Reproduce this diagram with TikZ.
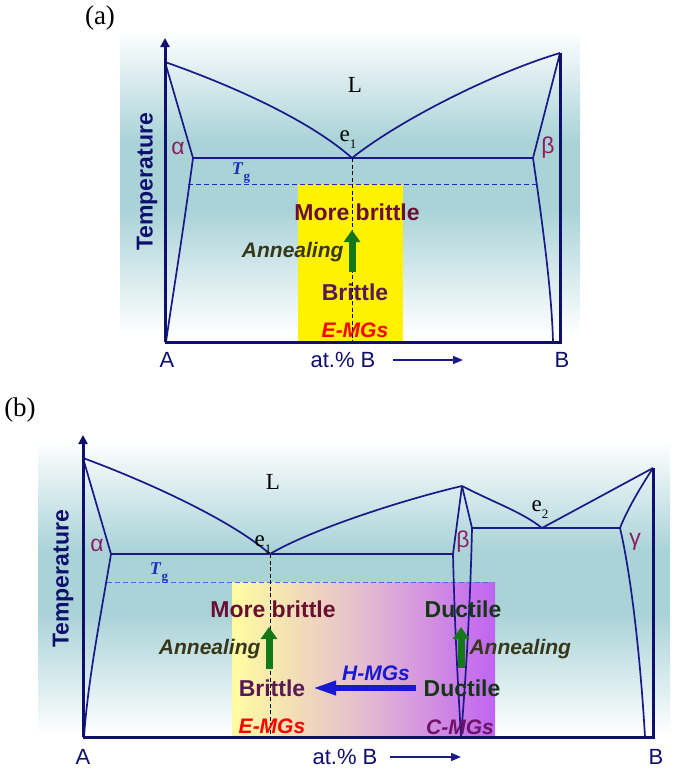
\documentclass[tikz,border=0pt]{standalone}
\usepackage{fontspec}
\setmainfont{Liberation Serif}
\setsansfont{Liberation Sans}
\usetikzlibrary{arrows.meta}
\definecolor{navy}{RGB}{25,25,135}
\definecolor{axisnavy}{RGB}{15,15,110}
\definecolor{bgteal}{RGB}{170,211,216}
\definecolor{morered}{RGB}{105,15,50}
\definecolor{brittlepur}{RGB}{90,25,85}
\definecolor{annealol}{RGB}{55,55,25}
\definecolor{ductgreen}{RGB}{20,55,20}
\definecolor{arrowgreen}{RGB}{20,120,25}
\definecolor{phasepur}{RGB}{140,30,100}
\definecolor{tgblue}{RGB}{25,45,200}
\definecolor{tgdash}{RGB}{70,110,230}
\definecolor{hblue}{RGB}{25,25,210}
\definecolor{cpur}{RGB}{110,20,100}
\definecolor{paleyel}{RGB}{255,252,160}
\definecolor{midpink}{RGB}{228,188,208}
\definecolor{violetr}{RGB}{192,100,242}
\newcommand{\fsz}[1]{\fontsize{#1}{#1}\selectfont}
\newcommand{\lowidx}[1]{\raisebox{-0.3em}{\fsz{13}#1}}
\begin{document}
\begin{tikzpicture}[x=1pt,y=-1pt,
phase/.style={draw=navy,line width=1.7pt,line join=round},
axisline/.style={draw=axisnavy,line width=3pt,line join=miter},
tgline/.style={dash pattern=on 5pt off 3pt,line width=1pt},
eline/.style={black,dash pattern=on 4pt off 2.5pt,line width=0.8pt},
anneal/.style={draw=arrowgreen,line width=7pt,-{Triangle[width=16pt,length=12pt]}},
bold/.style={font=\sffamily\bfseries\fsz{23}},
ital/.style={font=\sffamily\bfseries\itshape\fsz{21}},
axlbl/.style={font=\sffamily\fsz{22},text=axisnavy},
phlbl/.style={font=\sffamily\fsz{23},text=phasepur},
serif/.style={font=\fsz{23}},
tglbl/.style={font=\fsz{18},text=tgblue}]
\useasboundingbox (0,0) rectangle (675,769);

\shade[top color=white,bottom color=bgteal] (120,30) rectangle (580,140.5);
\fill[bgteal] (120,140) rectangle (580,210);
\shade[top color=bgteal,bottom color=white] (120,209.5) rectangle (580,335);
\fill[yellow] (298,184) rectangle (403,342);
\coordinate (aO) at (165,342);
\coordinate (aTop) at (165,38);
\coordinate (aTA) at (165,62);
\coordinate (aTB) at (560,53);
\coordinate (aBB) at (560,342);
\coordinate (aE) at (352,158);
\coordinate (aAl) at (193,158);
\coordinate (aBe) at (533,158);
\coordinate (aTg1) at (188,184);
\coordinate (aTg2) at (540,184);
\draw[tgline,tgblue] (aTg1) -- (aTg2);
\draw[phase] (aTA) .. controls (225,83) and (307,118) .. (aE) .. controls (397,122) and (490,74) .. (aTB);
\draw[phase] (aTA) -- (aAl) .. controls (182,240) and (172,300) .. (166,342);
\draw[phase] (aTB) -- (aBe) .. controls (545,240) and (552,300) .. (553,342);
\draw[phase] (aAl) -- (aBe);
\draw[eline] (aE) -- (aE |- aO);
\draw[axisline,-{Triangle[width=9pt,length=9pt]}] (aO) -- (aTop);
\draw[axisline] (aO) -- (aBB) -- (aTB);
\coordinate (aAn1) at (352,272);
\coordinate (aAn2) at (352,230);
\draw[anneal] (aAn1) -- (aAn2);
\node[font=\fsz{27}] (aTag) at (100,18) {(a)};
\node[serif] (aL) at (355,85) {L};
\node[serif] (aEl) at (348,140) {e\lowidx{1}};
\node[phlbl] (aAlpha) at (178,148) {α};
\node[phlbl] (aBeta) at (548,148) {β};
\node[tglbl] (aTgl) at (241,173) {\textbf{\textit{T}}\lowidx{\textbf{g}}};
\node[bold,text=morered] (aMore) at (357,212) {More brittle};
\node[ital,text=annealol,anchor=east] (aAnn) at (347,252) {Annealing};
\node[bold,text=brittlepur] (aBrit) at (355,292) {Brittle};
\node[ital,text=red] (aEmg) at (355,330) {E-MGs};
\node[bold,text=axisnavy,rotate=90] (aTemp) at (147,182) {Temperature};
\node[axlbl] (aA) at (167,360) {A};
\node[axlbl] (aAt) at (343,360) {at.\% B};
\node[axlbl] (aB) at (562,360) {B};
\coordinate (aAr1) at (393,360);
\coordinate (aAr2) at (463,360);
\draw[navy,line width=1.5pt,-{Triangle[width=8pt,length=10pt]}] (aAr1) -- (aAr2);

\shade[top color=white,bottom color=bgteal] (38,440) rectangle (670,550.5);
\fill[bgteal] (38,550) rectangle (670,615);
\shade[top color=bgteal,bottom color=white] (38,614.5) rectangle (670,735);
\shade[left color=paleyel,right color=violetr,middle color=midpink] (232,582) rectangle (495,737);
\coordinate (bO) at (83,737);
\coordinate (bTop) at (83,435);
\coordinate (bTA) at (83,458);
\coordinate (bTB) at (653,468);
\coordinate (bBB) at (653,737);
\coordinate (bE1) at (270,554);
\coordinate (bAl) at (111,554);
\coordinate (bP) at (462,486);
\coordinate (bBl) at (453,554);
\coordinate (bBr) at (472,528);
\coordinate (bBot) at (461,737);
\coordinate (bE2) at (542,528);
\coordinate (bGa) at (620,528);
\coordinate (bTg1) at (107,582);
\coordinate (bTg2) at (490,582);
\draw[tgline,tgdash] (bTg1) -- (bTg2);
\draw[phase] (bTA) .. controls (143,480) and (230,519) .. (bE1) .. controls (310,530) and (402,500) .. (bP);
\draw[phase] (bP) .. controls (495,503) and (522,512) .. (bE2) -- (bTB);
\draw[phase] (bTA) -- (bAl) .. controls (100,620) and (88,680) .. (84,737);
\draw[phase] (bAl) -- (bBl);
\draw[phase] (bP) -- (bBl) .. controls (455,640) and (459,700) .. (bBot);
\draw[phase] (bP) -- (bBr) .. controls (470,620) and (464,700) .. (bBot);
\draw[phase] (bBr) -- (bGa);
\draw[phase] (bTB) .. controls (640,488) and (627,510) .. (bGa) .. controls (630,570) and (640,650) .. (645,737);
\draw[eline] (bE1) -- (bE1 |- bO);
\draw[axisline,-{Triangle[width=9pt,length=9pt]}] (bO) -- (bTop);
\draw[axisline] (bO) -- (bBB) -- (bTB);
\coordinate (bAn1) at (269,669);
\coordinate (bAn2) at (269,627);
\draw[anneal] (bAn1) -- (bAn2);
\coordinate (bAn3) at (461,668);
\coordinate (bAn4) at (461,627);
\draw[anneal] (bAn3) -- (bAn4);
\coordinate (bH1) at (416,688);
\coordinate (bH2) at (312,688);
\draw[hblue,line width=6pt,-{Triangle[width=13pt,length=24pt]}] (bH1) -- (bH2);
\node[font=\fsz{27}] (bTag) at (20,410) {(b)};
\node[serif] (bL) at (273,482) {L};
\node[serif] (bEl) at (263,545) {e\lowidx{1}};
\node[serif] (bEl2) at (540,510) {e\lowidx{2}};
\node[phlbl] (bAlpha) at (97,545) {α};
\node[phlbl] (bBeta) at (463,542) {β};
\node[phlbl] (bGamma) at (635,542) {γ};
\node[tglbl] (bTgl) at (159,573) {\textbf{\textit{T}}\lowidx{\textbf{g}}};
\node[bold,text=morered] (bMore) at (273,609) {More brittle};
\node[ital,text=annealol,anchor=east] (bAnn) at (264,649) {Annealing};
\node[bold,text=brittlepur] (bBrit) at (272,688) {Brittle};
\node[ital,text=red] (bEmg) at (272,726) {E-MGs};
\node[bold,text=ductgreen] (bDuc) at (463,609) {Ductile};
\node[ital,text=annealol,anchor=west] (bAnn2) at (466,649) {Annealing};
\node[bold,text=ductgreen] (bDuc2) at (462,688) {Ductile};
\node[ital,text=cpur] (bCmg) at (460,727) {C-MGs};
\node[ital,text=hblue] (bHmg) at (376,673) {H-MGs};
\node[bold,text=axisnavy,rotate=90] (bTemp) at (63,579) {Temperature};
\node[axlbl] (bA) at (83,757) {A};
\node[axlbl] (bAt) at (345,757) {at.\% B};
\node[axlbl] (bB) at (656,757) {B};
\coordinate (bAr1) at (390,757);
\coordinate (bAr2) at (461,757);
\draw[navy,line width=1.5pt,-{Triangle[width=8pt,length=10pt]}] (bAr1) -- (bAr2);
\end{tikzpicture}
\end{document}
